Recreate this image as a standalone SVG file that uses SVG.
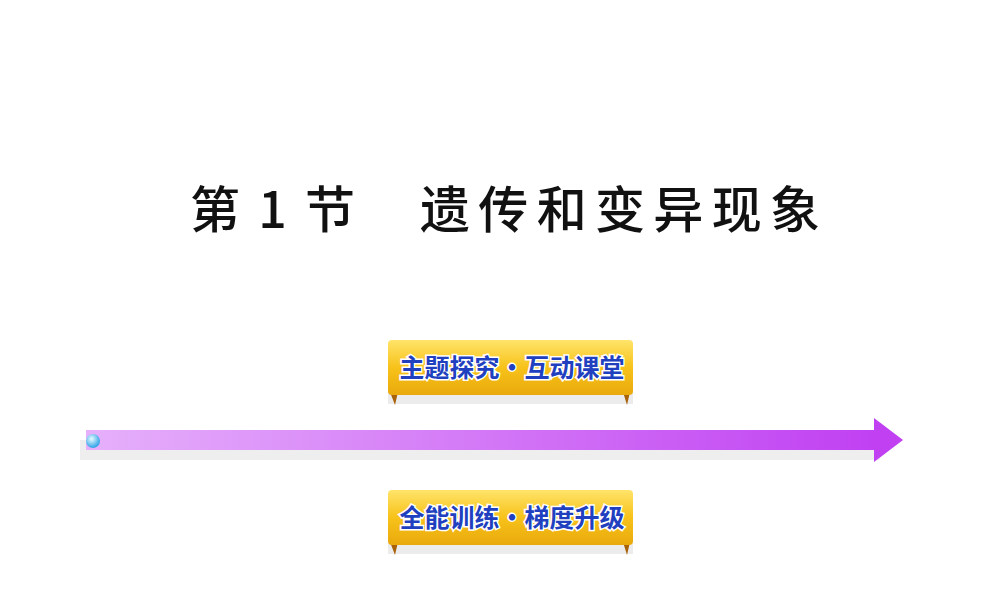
<svg xmlns="http://www.w3.org/2000/svg" width="1000" height="600" viewBox="0 0 1000 600">
<defs>
<linearGradient id="gold" x1="0" y1="0" x2="0" y2="1"><stop offset="0" stop-color="#ffe46a"/><stop offset="0.5" stop-color="#f7c21a"/><stop offset="1" stop-color="#e9a90c"/></linearGradient>
<linearGradient id="bar" x1="0" y1="0" x2="1" y2="0"><stop offset="0" stop-color="#e6b0fb"/><stop offset="1" stop-color="#c040f2"/></linearGradient>
<radialGradient id="ball" cx="0.4" cy="0.35" r="0.6"><stop offset="0" stop-color="#e8fbff"/><stop offset="1" stop-color="#3aa8e8"/></radialGradient>
<style>.b{font-family:"Noto Sans CJK SC",sans-serif;font-size:25px;font-weight:bold;fill:#2040c0;stroke:#fff;stroke-width:3;paint-order:stroke}
.t{font-family:"Noto Sans CJK SC",sans-serif;font-size:50px;font-weight:500;fill:#111}</style>
</defs>
<rect width="1000" height="600" fill="#fff"/>
<text x="190" y="228" class="t" textLength="165" lengthAdjust="spacing">第 1 节</text>
<text x="420" y="228" class="t" textLength="400" lengthAdjust="spacing">遗传和变异现象</text>
<g id="connectors">
<rect x="80" y="440" width="800" height="20" fill="#eeeeee"/>
<rect x="86" y="430" width="792" height="20" fill="url(#bar)"/>
<polygon points="874,418 903,440 874,462" fill="#c040f2"/>
<circle cx="93" cy="441" r="7" fill="url(#ball)"/>
</g>
<g id="banner1">
<rect x="388" y="392" width="245" height="12" fill="#ececec"/>
<path d="M390,392 L395,405 L398,392Z M630,392 L627,405 L623,392Z" fill="#a8620a"/>
<rect x="388" y="340" width="245" height="55" rx="4" fill="url(#gold)"/>
<text x="512" y="377" text-anchor="middle" class="b" textLength="225" lengthAdjust="spacing">主题探究・互动课堂</text>
</g>
<g id="banner2">
<rect x="388" y="542" width="245" height="12" fill="#ececec"/>
<path d="M390,542 L395,555 L398,542Z M630,542 L627,555 L623,542Z" fill="#a8620a"/>
<rect x="388" y="490" width="245" height="55" rx="4" fill="url(#gold)"/>
<text x="512" y="527" text-anchor="middle" class="b" textLength="225" lengthAdjust="spacing">全能训练・梯度升级</text>
</g>
</svg>
